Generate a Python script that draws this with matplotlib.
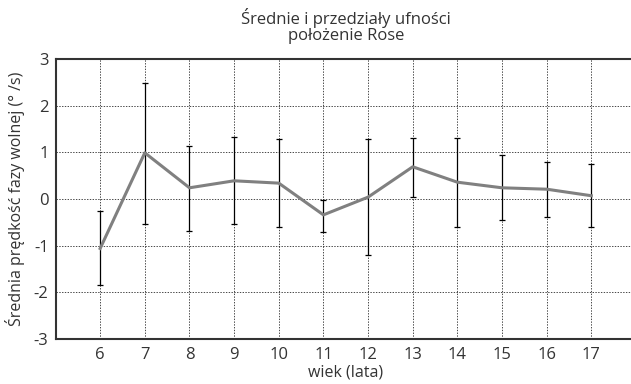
import matplotlib.pyplot as plt

wiek = [6, 7, 8, 9, 10, 11, 12, 13, 14, 15, 16, 17]
srednia = [-1.06, 0.99, 0.24, 0.39, 0.34, -0.34, 0.04, 0.69, 0.36, 0.24, 0.21, 0.07]
gora = [-0.25, 2.49, 1.14, 1.32, 1.28, -0.02, 1.28, 1.31, 1.30, 0.94, 0.79, 0.74]
dol = [-1.85, -0.53, -0.68, -0.53, -0.59, -0.70, -1.21, 0.04, -0.60, -0.46, -0.39, -0.61]

plt.rcParams['font.family'] = ['Open Sans', 'DejaVu Sans']
plt.rcParams['text.color'] = '#333333'
plt.rcParams['axes.unicode_minus'] = False

fig = plt.figure(figsize=(6.31, 3.84), dpi=100)
ax = fig.add_axes([55.5 / 631, 1 - 339 / 384, (636 - 55.5) / 631, 280 / 384])

err_low = [m - d for m, d in zip(srednia, dol)]
err_high = [g - m for m, g in zip(srednia, gora)]
ax.errorbar(wiek, srednia, yerr=[err_low, err_high], fmt='none', ecolor='black',
            elinewidth=0.9, capsize=2.5, capthick=0.9, zorder=3)
ax.plot(wiek, srednia, color='#808080', linewidth=2.2, zorder=4)

ax.set_xlim(5, 18)
ax.set_ylim(-3, 3)
ax.set_xticks(wiek)
ax.set_yticks([-3, -2, -1, 0, 1, 2, 3])
ax.grid(True, color='black', linestyle=(0, (2, 2)), linewidth=0.5)
ax.tick_params(length=0, labelsize=12, colors='#333333')
ax.tick_params(axis='x', pad=6)
ax.tick_params(axis='y', pad=5)
for s in ax.spines.values():
    s.set_linewidth(1.5)
    s.set_color('#333333')

ax.set_title('Średnie i przedziały ufności\npołożenie Rose', fontsize=12,
             color='#333333', linespacing=0.95, pad=14)
ax.set_xlabel('wiek (lata)', fontsize=11.5, color='#333333', labelpad=1)
ax.set_ylabel('Średnia prędkość fazy wolnej (° /s)', fontsize=11.5, color='#333333', labelpad=6)

fig.savefig('out.png', dpi=100)
